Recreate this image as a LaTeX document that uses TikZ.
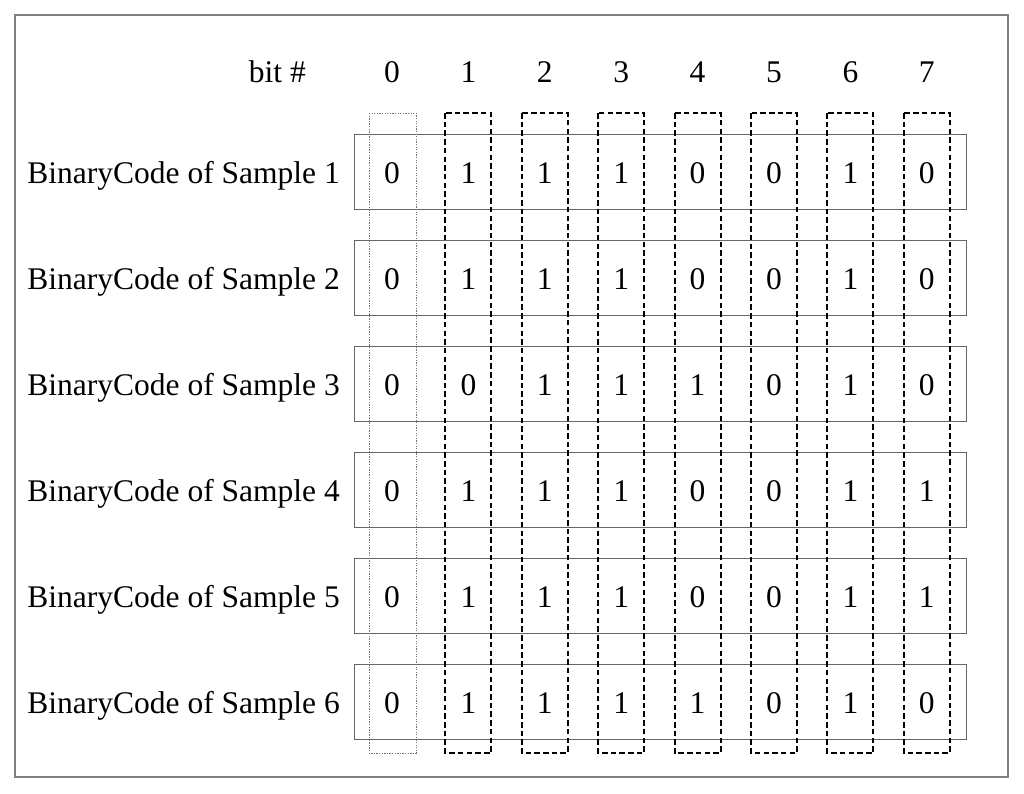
\documentclass[tikz,border=0pt]{standalone}
\usepackage{fontspec}
\setmainfont{Liberation Serif}
\begin{document}
\begin{tikzpicture}[x=1pt,y=-1pt,
  txt/.style={font=\fontsize{31.5}{36}\selectfont, inner sep=0pt, anchor=base},
  rowbox/.style={draw=black!60, line width=1pt},
  colbox/.style={draw=black, line width=2.1pt, dash pattern=on 5.5pt off 3.2pt},
  zerobox/.style={draw=black!55, line width=0.9pt, dash pattern=on 1.3pt off 1.3pt},
  frame/.style={draw=black!50, line width=1.3pt}]
\useasboundingbox (0,0) rectangle (1024,793);
\draw[frame] (15,15) rectangle (1008,777);
% row boxes
\foreach \r in {1,...,6}{
  \pgfmathsetmacro{\yt}{134+106*(\r-1)}
  \draw[rowbox] (354,\yt) rectangle (966,\yt+75);
}
% column boxes
\draw[zerobox] (369,113) rectangle (416,753);
\foreach \c in {1,...,7}{
  \pgfmathsetmacro{\xc}{392+76.4*\c}
  \draw[colbox] (\xc-23,113) rectangle (\xc+23,753);
}
% header
\node[txt, anchor=base east] (bit) at (306,82) {bit \#};
\foreach \c in {0,...,7}{
  \pgfmathsetmacro{\xc}{392+76.4*\c}
  \node[txt] (h\c) at (\xc,82) {\c};
}
% rows
\foreach \r/\bits in {1/{0,1,1,1,0,0,1,0},2/{0,1,1,1,0,0,1,0},3/{0,0,1,1,1,0,1,0},4/{0,1,1,1,0,0,1,1},5/{0,1,1,1,0,0,1,1},6/{0,1,1,1,1,0,1,0}}{
  \pgfmathsetmacro{\yb}{183+106*(\r-1)}
  \node[txt, anchor=base east] (lab\r) at (340,\yb) {BinaryCode of Sample \r};
  \foreach \b [count=\c from 0] in \bits {
    \pgfmathsetmacro{\xc}{392+76.4*\c}
    \node[txt] (v\r-\c) at (\xc,\yb) {\b};
  }
}
\end{tikzpicture}
\end{document}
